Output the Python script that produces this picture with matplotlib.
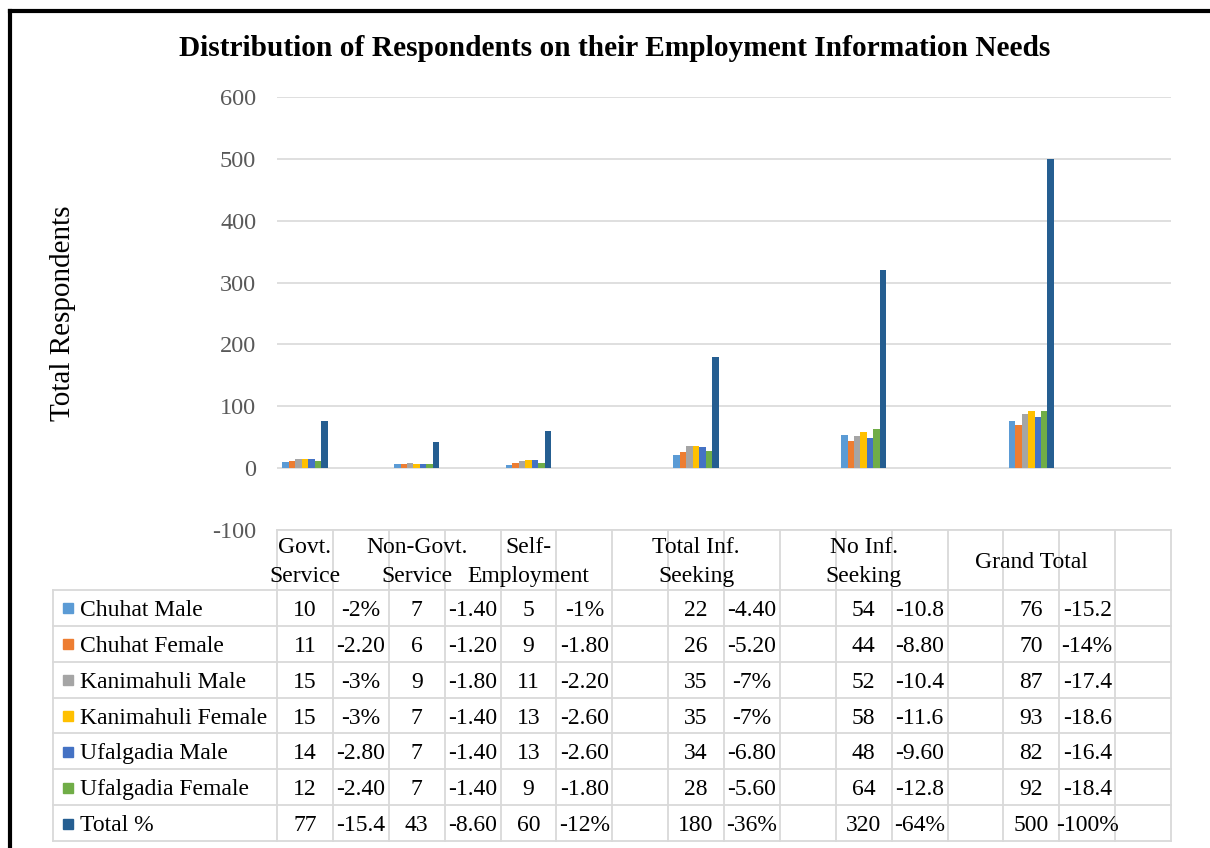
import matplotlib
matplotlib.use("Agg")
import matplotlib.pyplot as plt
from matplotlib.patches import Rectangle
from matplotlib.lines import Line2D

plt.rcParams['font.family'] = ['Liberation Serif', 'DejaVu Serif']

# ---------------- data ----------------
categories = ["Govt.\nService", "Non-Govt.\nService", "Self-\nEmployment",
              "Total Inf.\nSeeking", "No Inf.\nSeeking", "Grand Total"]
# table column index of each category's count column (percent column follows it)
cat_columns = [0, 2, 4, 7, 10, 13]
n_columns = 16

series_names = ["Chuhat Male", "Chuhat Female", "Kanimahuli Male",
                "Kanimahuli Female", "Ufalgadia Male", "Ufalgadia Female", "Total %"]
chuhat_male = [10, 7, 5, 22, 54, 76]
chuhat_female = [11, 6, 9, 26, 44, 70]
kanimahuli_male = [15, 9, 11, 35, 52, 87]
kanimahuli_female = [15, 7, 13, 35, 58, 93]
ufalgadia_male = [14, 7, 13, 34, 48, 82]
ufalgadia_female = [12, 7, 9, 28, 64, 92]
total = [77, 43, 60, 180, 320, 500]
series_values = [chuhat_male, chuhat_female, kanimahuli_male, kanimahuli_female,
                 ufalgadia_male, ufalgadia_female, total]

pct_chuhat_male = ["-2%", "-1.40", "-1%", "-4.40", "-10.8", "-15.2"]
pct_chuhat_female = ["-2.20", "-1.20", "-1.80", "-5.20", "-8.80", "-14%"]
pct_kanimahuli_male = ["-3%", "-1.80", "-2.20", "-7%", "-10.4", "-17.4"]
pct_kanimahuli_female = ["-3%", "-1.40", "-2.60", "-7%", "-11.6", "-18.6"]
pct_ufalgadia_male = ["-2.80", "-1.40", "-2.60", "-6.80", "-9.60", "-16.4"]
pct_ufalgadia_female = ["-2.40", "-1.40", "-1.80", "-5.60", "-12.8", "-18.4"]
pct_total = ["-15.4", "-8.60", "-12%", "-36%", "-64%", "-100%"]
series_pct = [pct_chuhat_male, pct_chuhat_female, pct_kanimahuli_male,
              pct_kanimahuli_female, pct_ufalgadia_male, pct_ufalgadia_female, pct_total]

colors = ["#5B9BD5", "#ED7D31", "#A5A5A5", "#FFC000", "#4472C4", "#70AD47", "#255E91"]

y_ticks = [-100, 0, 100, 200, 300, 400, 500, 600]

# ---------------- layout (pixels) ----------------
W, H = 1210, 848
px_left, px_right = 277, 1171
px_top, px_bottom = 97, 530
tbl_left = 53
header_bottom = 590
row_h = 35.86
grid_col = "#D9D9D9"

fig = plt.figure(figsize=(W / 100, H / 100), dpi=100)

ax = fig.add_axes([px_left / W, 1 - px_bottom / H,
                   (px_right - px_left) / W, (px_bottom - px_top) / H])
ax.set_xlim(-0.5, n_columns - 0.5)
ax.set_ylim(-100, 600)
ax.set_yticks(y_ticks)
ax.set_yticklabels([str(t) for t in y_ticks], fontsize=17.5, color="#595959")
ax.tick_params(axis='y', length=0, pad=15)
ax.set_xticks([])
for s in ax.spines.values():
    s.set_visible(False)
ax.yaxis.grid(True, color=grid_col, lw=1.2)
ax.set_axisbelow(True)
ax.set_ylabel("Total Respondents", fontsize=21, labelpad=0)
ax.yaxis.set_label_coords((76 - px_left) / (px_right - px_left), 0.5)

group_w = 0.81
bw = group_w / len(series_names)
for k, (vals, c) in enumerate(zip(series_values, colors)):
    xs = [col - group_w / 2 + bw * (k + 0.5) for col in cat_columns]
    ax.bar(xs, vals, width=bw, color=c, zorder=3)

# title
fig.text(615 / W, 1 - 49 / H,
         "Distribution of Respondents on their Employment Information Needs",
         ha="center", va="center", fontsize=21.2, fontweight="bold")

# outer frame
fig.add_artist(Line2D([10 / W, 10 / W], [0, 1 - 11 / H], color="black", lw=3,
                      transform=fig.transFigure, solid_capstyle="projecting"))
fig.add_artist(Line2D([10 / W, 1], [1 - 11 / H, 1 - 11 / H], color="black", lw=3,
                      transform=fig.transFigure, solid_capstyle="projecting"))

# ---------------- data table ----------------
tax = fig.add_axes([0, 0, 1, 1])
tax.set_xlim(0, W)
tax.set_ylim(H, 0)
tax.axis("off")
tax.patch.set_alpha(0)

cw = (px_right - px_left) / n_columns


def col_x(i):
    return px_left + i * cw


n_rows = len(series_names)
tbl_bottom = header_bottom + n_rows * row_h
lw_t = 1.3
# horizontal lines
tax.plot([px_left, px_right], [px_bottom, px_bottom], color=grid_col, lw=lw_t)
for r in range(n_rows + 1):
    y = header_bottom + r * row_h
    tax.plot([tbl_left, px_right], [y, y], color=grid_col, lw=lw_t)
# vertical lines
tax.plot([tbl_left, tbl_left], [header_bottom, tbl_bottom], color=grid_col, lw=lw_t)
for i in range(n_columns + 1):
    x = col_x(i)
    tax.plot([x, x], [px_bottom, tbl_bottom], color=grid_col, lw=lw_t, zorder=1)

# header labels
for lab, col in zip(categories, cat_columns):
    tax.text(col_x(col + 0.5), 562, lab, ha="center", va="center",
             fontsize=17, linespacing=1.45, zorder=3)

# rows
for r, (name, vals, pcts, c) in enumerate(zip(series_names, series_values,
                                                series_pct, colors)):
    yc = header_bottom + (r + 0.5) * row_h
    yt = yc + 2.5
    tax.add_patch(Rectangle((63, yc - 4.5), 10, 10, color=c))
    tax.text(80, yt, name, ha="left", va="center", fontsize=17)
    for v, p, col in zip(vals, pcts, cat_columns):
        tax.text(col_x(col + 0.5), yt, str(v), ha="center", va="center", fontsize=17)
        tax.text(col_x(col + 1.5), yt, p, ha="center", va="center", fontsize=17)

fig.savefig("out.png", dpi=100)
